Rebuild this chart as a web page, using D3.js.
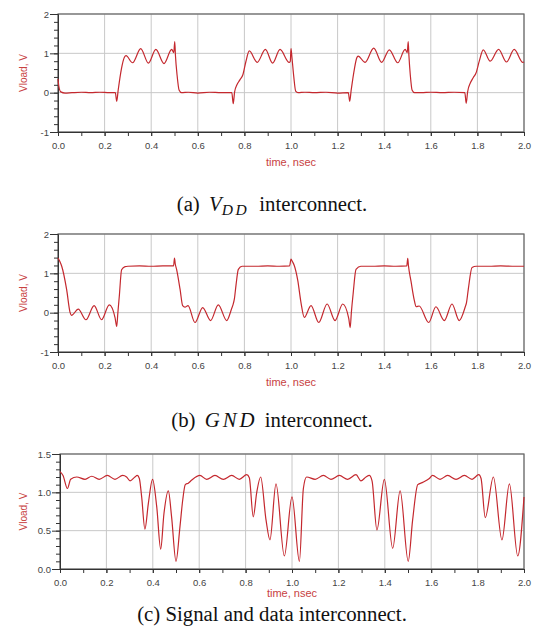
<!DOCTYPE html>
<html>
<head>
<meta charset="utf-8">
<script src="https://cdn.jsdelivr.net/npm/d3@7"></script>
<style>
body { margin: 0; background: #fff; }
svg { display: block; }
.tick text { font-family: "Liberation Sans", Arial, sans-serif; font-size: 9.5px; fill: #444; }
.axis-title { font-family: "Liberation Sans", Arial, sans-serif; fill: #c8413f; }
.caption { font-family: "Liberation Serif", "Times New Roman", serif; font-size: 20.8px; fill: #111; }
</style>
</head>
<body>
<svg width="536" height="639"></svg>
<script>
// [time (nsec), Vload (V)]
var vddWave = [
    [0, 0.35], [0.004, 0.15], [0.012, 0.02], [0.03, -0.01], [0.06, 0.0], [0.1, 0.01], [0.14, 0.0], [0.18, 0.01], [0.22, 0.0], [0.246, 0.0],
    [0.252, -0.22], [0.258, 0.05], [0.272, 0.6], [0.285, 0.9], [0.292, 0.94], [0.32, 0.76], [0.355, 1.12], [0.388, 0.75], [0.42, 1.1], [0.455, 0.74], [0.488, 1.1], [0.497, 1.02], [0.501, 1.3], [0.504, 0.95], [0.511, 0.45], [0.52, 0.06], [0.53, 0.0],
    [0.56, 0.01], [0.6, -0.01], [0.65, 0.01], [0.7, 0.0], [0.746, 0.0],
    [0.752, -0.28], [0.758, 0.02], [0.768, 0.2], [0.78, 0.32], [0.793, 0.45], [0.806, 0.78], [0.821, 1.06], [0.855, 0.77], [0.89, 1.1], [0.921, 0.75], [0.953, 1.1], [0.992, 0.77], [0.997, 0.8], [1.0, 1.12], [1.004, 0.9], [1.012, 0.4], [1.02, 0.04], [1.03, 0.0],
    [1.06, 0.01], [1.1, 0.0], [1.15, 0.01], [1.2, -0.01], [1.246, 0.0],
    [1.252, -0.22], [1.258, 0.05], [1.272, 0.6], [1.282, 0.88], [1.288, 0.93], [1.318, 0.77], [1.355, 1.13], [1.389, 0.77], [1.422, 1.09], [1.458, 0.76], [1.49, 1.1], [1.499, 1.02], [1.503, 1.3], [1.506, 0.95], [1.512, 0.45], [1.52, 0.06], [1.53, 0.0],
    [1.56, 0.0], [1.6, 0.01], [1.65, 0.0], [1.7, 0.01], [1.746, 0.0],
    [1.752, -0.27], [1.758, 0.02], [1.77, 0.25], [1.782, 0.38], [1.794, 0.5], [1.808, 0.8], [1.825, 1.09], [1.855, 0.8], [1.891, 1.1], [1.925, 0.78], [1.958, 1.1], [1.995, 0.77], [2.0, 0.78]
];

var gndWave = [
    [0, 1.39], [0.008, 1.3], [0.016, 1.18], [0.037, 0.59], [0.052, 0.0], [0.058, -0.07], [0.087, 0.09], [0.12, -0.18], [0.155, 0.18], [0.187, -0.18], [0.22, 0.2], [0.245, -0.13], [0.252, -0.35], [0.257, 0.0], [0.263, 0.41], [0.273, 1.09], [0.288, 1.17],
    [0.3, 1.18], [0.35, 1.19], [0.4, 1.18], [0.45, 1.19], [0.496, 1.19], [0.5, 1.39], [0.503, 1.25], [0.509, 1.1], [0.524, 0.59], [0.535, 0.18], [0.545, 0.14], [0.558, 0.18], [0.588, -0.25], [0.621, 0.13], [0.655, -0.2], [0.688, 0.2], [0.724, -0.2], [0.745, 0.1], [0.751, 0.2], [0.757, 0.35], [0.764, 0.7], [0.774, 1.1], [0.79, 1.18],
    [0.85, 1.18], [0.9, 1.19], [0.95, 1.18], [0.994, 1.19], [1.0, 1.36], [1.006, 1.3], [1.014, 1.2], [1.029, 0.82], [1.043, 0.25], [1.057, -0.12], [1.086, 0.18], [1.119, -0.25], [1.155, 0.22], [1.189, -0.2], [1.222, 0.22], [1.248, -0.15], [1.254, -0.38], [1.259, 0.0], [1.267, 0.5], [1.279, 1.1], [1.3, 1.18],
    [1.35, 1.18], [1.4, 1.19], [1.45, 1.18], [1.497, 1.19], [1.501, 1.38], [1.504, 1.2], [1.515, 0.8], [1.529, 0.32], [1.537, 0.15], [1.55, 0.17], [1.591, -0.25], [1.622, 0.15], [1.658, -0.2], [1.691, 0.22], [1.722, -0.2], [1.748, 0.15], [1.753, 0.25], [1.761, 0.6], [1.777, 1.15], [1.795, 1.18],
    [1.85, 1.18], [1.9, 1.19], [1.95, 1.18], [2.0, 1.18]
];

var signalWave = [
    [0, 1.27], [0.013, 1.22], [0.032, 1.05], [0.046, 1.17], [0.072, 1.2], [0.108, 1.17], [0.137, 1.21], [0.169, 1.17], [0.204, 1.22], [0.237, 1.17], [0.27, 1.22], [0.287, 1.2], [0.302, 1.15], [0.323, 1.2], [0.333, 1.22], [0.342, 1.18],
    [0.352, 0.94], [0.366, 0.52], [0.381, 0.86], [0.399, 1.17], [0.417, 0.81], [0.434, 0.26], [0.448, 0.72], [0.467, 1.02], [0.481, 0.68], [0.5, 0.1], [0.517, 0.55], [0.529, 0.9], [0.54, 1.1], [0.553, 1.12], [0.568, 1.16],
    [0.603, 1.22], [0.632, 1.17], [0.668, 1.22], [0.704, 1.17], [0.74, 1.22], [0.773, 1.17], [0.805, 1.23], [0.816, 1.19],
    [0.833, 0.68], [0.848, 1.0], [0.865, 1.2], [0.888, 0.64], [0.905, 0.38], [0.931, 1.11], [0.967, 0.17], [1.0, 0.94], [1.032, 0.1], [1.049, 1.05], [1.063, 1.2],
    [1.1, 1.17], [1.135, 1.22], [1.168, 1.17], [1.204, 1.22], [1.24, 1.17], [1.276, 1.23], [1.297, 1.15], [1.319, 1.2], [1.333, 1.22], [1.345, 1.15],
    [1.366, 0.51], [1.398, 1.17], [1.434, 0.27], [1.466, 1.02], [1.501, 0.1], [1.52, 0.64], [1.542, 1.1], [1.564, 1.13], [1.592, 1.18],
    [1.606, 1.22], [1.638, 1.17], [1.671, 1.22], [1.707, 1.17], [1.743, 1.22], [1.776, 1.17], [1.805, 1.23], [1.815, 1.18],
    [1.833, 0.67], [1.868, 1.2], [1.905, 0.38], [1.937, 1.11], [1.973, 0.17], [2.0, 0.94]
];

var xTickLabels = ["0.0", "0.2", "0.4", "0.6", "0.8", "1.0", "1.2", "1.4", "1.6", "1.8", "2.0"];
var yTickLabelsVolt = ["-1", "0", "1", "2"];
var yTickLabelsSignal = ["0.0", "0.5", "1.0", "1.5"];

var xTitle = "time, nsec",
    yTitle = "Vload, V";

var svg = d3.select("svg");

var panels = [
    {wave: vddWave, left: 58, right: 524, top: 14, bottom: 132, yDomain: [-1, 2], yLabels: yTickLabelsVolt, yMinor: 0.2,
     xTitleDy: 34, captionY: 211, caption: "a"},
    {wave: gndWave, left: 58, right: 524, top: 234, bottom: 352, yDomain: [-1, 2], yLabels: yTickLabelsVolt, yMinor: 0.2,
     xTitleDy: 34, captionY: 427, caption: "b"},
    {wave: signalWave, left: 60, right: 524, top: 454, bottom: 569, yDomain: [0, 1.5], yLabels: yTickLabelsSignal, yMinor: 0.1,
     xTitleDy: 28, captionY: 621, caption: "c"}
];

panels.forEach(function(p) {
    var x = d3.scaleLinear().domain([0, 2]).range([p.left, p.right]),
        y = d3.scaleLinear().domain(p.yDomain).range([p.bottom, p.top]);

    var xMajor = xTickLabels.map(Number),
        yMajor = p.yLabels.map(Number),
        xMinor = d3.range(0, 21).map(function(i) { return i / 10; }),
        nMinor = Math.round((p.yDomain[1] - p.yDomain[0]) / p.yMinor),
        yMinor = d3.range(0, nMinor + 1).map(function(i) { return p.yDomain[0] + i * p.yMinor; });

    var g = svg.append("g");

    // grid
    g.selectAll(".gx").data(xMajor).enter().append("line")
        .attr("x1", function(d) { return x(d); }).attr("x2", function(d) { return x(d); })
        .attr("y1", p.top).attr("y2", p.bottom)
        .attr("stroke", "#c8c8c8").attr("stroke-width", 1);
    g.selectAll(".gy").data(yMajor).enter().append("line")
        .attr("x1", p.left).attr("x2", p.right)
        .attr("y1", function(d) { return y(d); }).attr("y2", function(d) { return y(d); })
        .attr("stroke", "#c8c8c8").attr("stroke-width", 1);

    // frame
    g.append("rect")
        .attr("x", p.left).attr("y", p.top)
        .attr("width", p.right - p.left).attr("height", p.bottom - p.top)
        .attr("fill", "none").attr("stroke", "#666").attr("stroke-width", 1.2);

    // axes: minor ticks then labelled major ones
    g.append("g").attr("transform", "translate(0," + p.bottom + ")")
        .call(d3.axisBottom(x).tickValues(xMinor).tickSize(4).tickFormat(""))
        .call(function(a) { a.select(".domain").remove(); a.selectAll("line").attr("stroke", "#333"); });
    g.append("g").attr("transform", "translate(0," + p.bottom + ")")
        .call(d3.axisBottom(x).tickValues(xMajor).tickSize(4).tickPadding(6.5)
            .tickFormat(function(d, i) { return xTickLabels[i]; }))
        .call(function(a) { a.select(".domain").attr("stroke", "#333"); a.selectAll("line").attr("stroke", "#333"); });

    g.append("g").attr("transform", "translate(" + p.left + ",0)")
        .call(d3.axisLeft(y).tickValues(yMinor).tickSize(4).tickFormat(""))
        .call(function(a) { a.select(".domain").remove(); a.selectAll("line").attr("stroke", "#333"); });
    g.append("g").attr("transform", "translate(" + p.left + ",0)")
        .call(d3.axisLeft(y).tickValues(yMajor).tickSize(8).tickPadding(1)
            .tickFormat(function(d, i) { return p.yLabels[i]; }))
        .call(function(a) { a.select(".domain").attr("stroke", "#333"); a.selectAll("line").attr("stroke", "#333"); });

    // waveform
    var line = d3.line()
        .x(function(d) { return x(d[0]); })
        .y(function(d) { return y(d[1]); })
        .curve(d3.curveMonotoneX);
    g.append("path")
        .datum(p.wave)
        .attr("d", line)
        .attr("fill", "none")
        .attr("stroke", "#c4282e")
        .attr("stroke-width", 1.2);

    // titles
    g.append("text").attr("class", "axis-title")
        .attr("x", (p.left + p.right) / 2).attr("y", p.bottom + p.xTitleDy)
        .attr("text-anchor", "middle").attr("font-size", "11px")
        .text(xTitle);
    g.append("text").attr("class", "axis-title")
        .attr("transform", "translate(27," + ((p.top + p.bottom) / 2) + ") rotate(-90)")
        .attr("text-anchor", "middle").attr("font-size", "10px")
        .text(yTitle);

    // caption
    var cap = svg.append("text").attr("class", "caption")
        .attr("x", 272).attr("y", p.captionY).attr("text-anchor", "middle");
    if (p.caption === "a") {
        cap.append("tspan").text("(a) ");
        cap.append("tspan").attr("font-style", "italic").attr("dx", 4).text("V");
        cap.append("tspan").attr("font-style", "italic").attr("font-size", "15.5px").attr("letter-spacing", "2.5px").attr("dy", 4).text("DD");
        cap.append("tspan").attr("dy", -4).attr("dx", 5).text(" interconnect.");
    } else if (p.caption === "b") {
        cap.append("tspan").text("(b) ");
        cap.append("tspan").attr("font-style", "italic").attr("dx", 4).attr("letter-spacing", "3px").text("GND");
        cap.append("tspan").attr("dx", 2).text(" interconnect.");
    } else {
        cap.text("(c) Signal and data interconnect.");
    }
});
</script>
</body>
</html>
